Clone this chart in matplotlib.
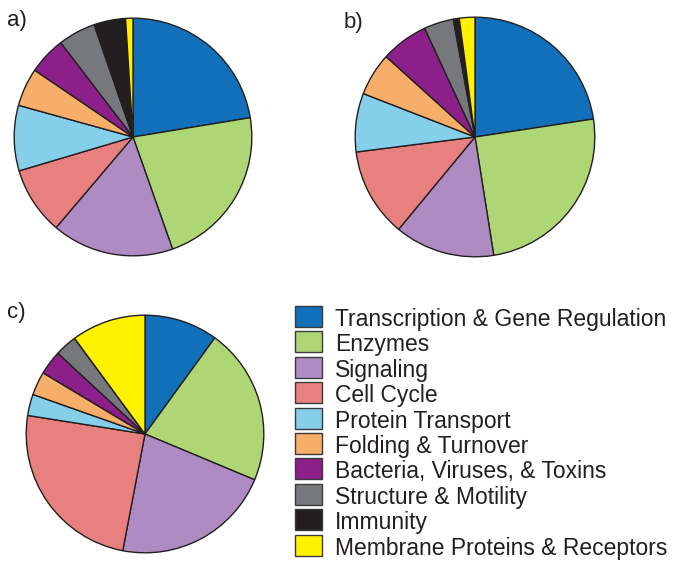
import matplotlib
matplotlib.use("Agg")
import matplotlib.pyplot as plt
from matplotlib.patches import Rectangle

plt.rcParams['font.family'] = ['Liberation Sans', 'DejaVu Sans']

categories = ["Transcription & Gene Regulation", "Enzymes", "Signaling", "Cell Cycle",
              "Protein Transport", "Folding & Turnover", "Bacteria, Viruses, & Toxins",
              "Structure & Motility", "Immunity", "Membrane Proteins & Receptors"]
colors = ["#1170b9", "#aed674", "#ae8cc3", "#e8807f", "#86cfea",
          "#f6ae68", "#8d1f8b", "#77787b", "#231f20", "#fff200"]

# percentages
share_a = [22.4, 22.2, 16.6, 9.2, 8.9, 5.2, 5.1, 5.1, 4.3, 1.0]
share_b = [22.6, 24.9, 13.5, 12.0, 7.9, 5.8, 6.4, 4.0, 0.8, 2.1]
share_c = [10.0, 21.3, 21.7, 24.5, 2.9, 3.2, 3.3, 3.0, 0.0, 10.1]
panel_labels = ["a)", "b)", "c)"]

W, H = 676, 569
fig = plt.figure(figsize=(W / 100, H / 100), dpi=100)


def pie_axes(cx, cy, r):
    return fig.add_axes([(cx - r) / W, 1 - (cy + r) / H, 2 * r / W, 2 * r / H])


layout = [(133, 137, 120, share_a), (475, 137, 121, share_b), (145, 434, 120, share_c)]
for cx, cy, r, vals in layout:
    ax = pie_axes(cx, cy, r)
    ax.pie(vals, colors=colors, startangle=90, counterclock=False, radius=1,
           wedgeprops=dict(edgecolor="#231f20", linewidth=1.0))
    ax.set_xlim(-1.01, 1.01)
    ax.set_ylim(-1.01, 1.01)
    ax.set_aspect("equal")
    ax.axis("off")

# panel letters and legend in pixel coordinates
ov = fig.add_axes([0, 0, 1, 1])
ov.set_xlim(0, W)
ov.set_ylim(H, 0)
ov.axis("off")

for lbl, (x, y) in zip(panel_labels, [(7, 26), (344, 28), (7, 318)]):
    ov.text(x, y, lbl, fontsize=16, va="baseline", ha="left", color="#231f20")

for i, (name, col) in enumerate(zip(categories, colors)):
    top = 306 + 25.4 * i
    ov.add_patch(Rectangle((295, top), 27, 21, facecolor=col, edgecolor="#3a3a3a", linewidth=1.0))
    ov.text(335, top + 20, name, fontsize=16.5, va="baseline", ha="left", color="#231f20")

fig.savefig("out.png", dpi=100)
